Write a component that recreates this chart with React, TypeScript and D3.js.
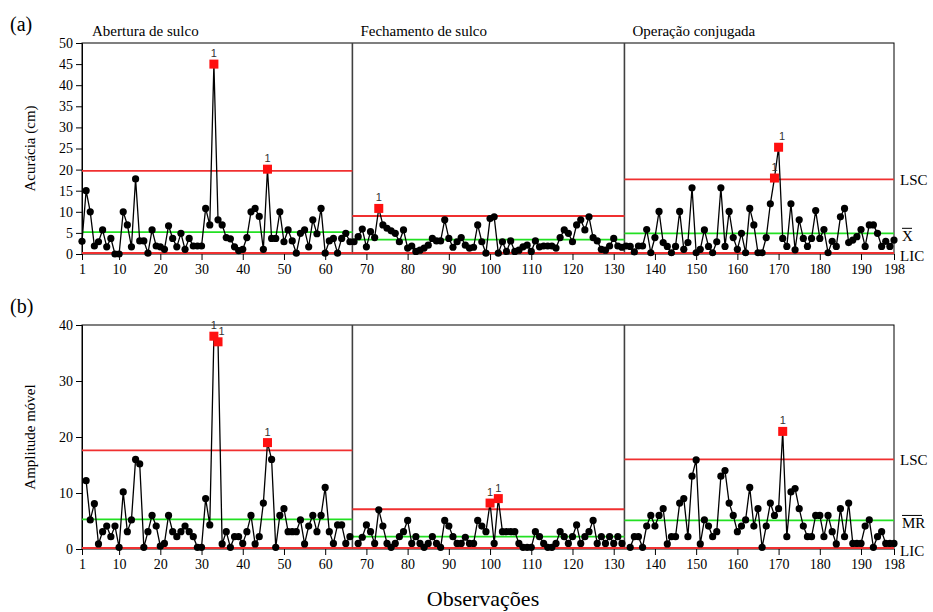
import React, { useEffect, useRef } from "react";
import * as d3 from "d3";

// phases of the operation
const phaseNames = ["Abertura de sulco", "Fechamento de sulco", "Operação conjugada"];
const phaseStart = [1, 67, 133];
const phaseEnd = [66, 132, 198];
const xTicks = [1, 10, 20, 30, 40, 50, 60, 70, 80, 90, 100, 110, 120, 130, 140, 150, 160, 170, 180, 190, 198];

// (a) individual values - accuracy (cm), one array per phase
const accPhase1 = [
  3.0, 15.0, 10.0, 1.9, 2.9, 5.7, 1.7, 3.7, 0.0, 0.0,
  10.0, 6.9, 1.7, 17.8, 3.1, 3.1, 0.2, 5.7, 1.9, 1.7,
  1.1, 6.7, 3.7, 1.7, 4.9, 1.1, 3.7, 1.9, 1.9, 1.9,
  10.8, 6.9, 45.0, 8.1, 6.9, 3.9, 3.6, 1.7, 0.8, 1.1,
  3.9, 10.0, 10.8, 8.9, 1.1, 20.1, 3.7, 3.7, 10.0, 2.9,
  5.7, 3.1, 0.2, 4.9, 5.7, 1.7, 8.1, 4.8, 10.8, 0.2,
  3.1, 3.7, 0.2, 3.7, 4.9, 2.9,
];
const accPhase2 = [
  2.9, 4.1, 5.9, 1.7, 5.3, 3.9, 10.8, 6.9, 6.1, 5.5,
  4.9, 2.9, 5.7, 1.4, 1.9, 0.6, 0.9, 1.4, 2.1, 3.7,
  3.1, 3.1, 8.1, 3.7, 1.6, 2.9, 3.9, 2.1, 1.4, 1.6,
  6.9, 2.9, 0.2, 8.4, 8.8, 0.2, 2.9, 0.6, 3.1, 0.6,
  0.9, 1.7, 2.1, 0.6, 3.1, 1.7, 1.9, 1.9, 1.9, 1.4,
  3.9, 5.7, 4.9, 2.9, 6.9, 8.1, 5.7, 8.8, 3.9, 3.1,
  1.1, 0.9, 1.9, 3.7, 1.9, 1.6,
];
const accPhase3 = [
  1.9, 1.8, 0.5, 1.9, 1.9, 5.8, 0.3, 3.9, 10.1, 2.7,
  1.8, 0.3, 1.8, 10.1, 1.1, 2.7, 15.7, 0.3, 1.1, 5.7,
  1.8, 0.3, 2.9, 15.7, 1.8, 10.1, 3.9, 1.1, 4.9, 0.3,
  10.8, 6.9, 0.3, 0.3, 3.9, 11.9, 18.0, 25.3, 3.7, 1.8,
  11.9, 1.0, 8.1, 3.7, 1.8, 3.7, 10.3, 3.7, 5.8, 0.3,
  3.0, 1.8, 8.8, 10.8, 2.7, 3.3, 4.1, 5.8, 1.8, 6.9,
  6.9, 4.9, 1.8, 3.0, 1.8, 3.3,
];
const accUcl = [19.7, 9.0, 17.7];
const accMean = [5.2, 3.4, 4.9];
const accLcl = [0, 0, 0];

// (b) moving range, starts at the 2nd observation of each phase
const mrPhase1 = [
  12.2, 5.2, 8.1, 0.9, 3.1, 4.1, 2.2, 4.1, 0.3, 10.2,
  3.1, 5.2, 16.0, 15.2, 0.3, 3.1, 6.0, 4.1, 0.5, 1.0,
  6.0, 3.1, 2.2, 3.1, 4.1, 3.1, 2.2, 0.3, 0.3, 9.0,
  4.3, 38.0, 37.0, 0.9, 3.1, 0.3, 2.2, 2.2, 1.0, 3.1,
  6.0, 0.9, 2.2, 8.2, 19.0, 16.0, 0.3, 6.0, 7.2, 3.1,
  3.1, 3.1, 5.2, 0.9, 4.1, 6.0, 3.1, 6.0, 11.0, 3.1,
  1.0, 4.3, 4.3, 1.0, 2.2,
];
const mrPhase2 = [
  1.0, 2.1, 4.3, 3.1, 1.0, 7.0, 4.1, 1.0, 0.3, 1.0,
  2.2, 3.1, 5.1, 1.0, 2.2, 1.0, 0.3, 1.0, 2.2, 1.0,
  0.3, 5.1, 4.1, 2.2, 1.0, 1.0, 2.1, 1.0, 1.0, 5.1,
  4.1, 3.1, 8.2, 1.0, 9.0, 3.1, 3.1, 3.1, 3.1, 1.0,
  0.3, 0.3, 0.3, 3.1, 2.2, 1.0, 0.3, 0.3, 1.0, 3.1,
  2.2, 1.0, 2.2, 4.3, 1.0, 2.2, 3.1, 5.1, 1.0, 2.2,
  1.0, 2.2, 1.0, 2.2, 1.0,
];
const mrPhase3 = [
  0.3, 2.2, 2.2, 0.3, 4.1, 6.0, 4.1, 6.0, 7.2, 0.9,
  2.2, 2.2, 8.2, 9.0, 2.2, 13.0, 15.9, 0.9, 5.2, 4.1,
  2.2, 3.1, 13.0, 14.0, 8.2, 6.0, 3.1, 4.1, 5.2, 11.0,
  4.1, 7.2, 0.3, 4.1, 8.2, 6.0, 7.2, 21.0, 2.2, 10.2,
  10.8, 7.2, 4.1, 2.2, 2.2, 6.0, 6.0, 2.2, 6.0, 3.1,
  0.9, 7.2, 2.2, 8.2, 1.0, 1.0, 1.0, 4.1, 5.2, 0.3,
  2.2, 3.1, 1.0, 1.0, 1.0,
];
const mrUcl = [17.6, 7.1, 16.0];
const mrMean = [5.3, 2.2, 5.1];
const mrLcl = [0, 0, 0];

const W = 933;
const H = 612;
const FONT = "'Liberation Serif', 'Times New Roman', serif";

export default function App() {
  const svgRef = useRef(null);

  useEffect(() => {
    const svg = d3.select(svgRef.current);
    svg.selectAll("*").remove();

    const left = 82;
    const right = 894;
    const x = d3.scaleLinear().domain([1, 198]).range([left, right]);
    // separators between the phases
    const seps = [left, x(66.6), x(132.6), right];

    function drawPanel(opts) {
      const { top, bottom, yMax, yTicks, series, offset, ucl, mean, lcl, yTitle, tag, centerLabel, withNames } = opts;
      const y = d3.scaleLinear().domain([0, yMax]).range([bottom, top]);
      const g = svg.append("g");

      // frame
      g.append("rect")
        .attr("x", left)
        .attr("y", top)
        .attr("width", right - left)
        .attr("height", bottom - top)
        .attr("fill", "white")
        .attr("stroke", "#000")
        .attr("stroke-width", 1);

      // y axis
      const yAxis = g.append("g").attr("transform", `translate(${left},0)`)
        .call(d3.axisLeft(y).tickValues(yTicks).tickSize(6).tickPadding(3));
      yAxis.select(".domain").attr("stroke", "#000");
      yAxis.selectAll("text").style("font-family", FONT).style("font-size", "14px").attr("fill", "#000");

      // x axis
      const xAxis = g.append("g").attr("transform", `translate(0,${bottom})`)
        .call(d3.axisBottom(x).tickValues(xTicks).tickFormat(d3.format("d")).tickSize(6).tickPadding(4));
      xAxis.select(".domain").remove();
      xAxis.selectAll("text").style("font-family", FONT).style("font-size", "14px").attr("fill", "#000");

      // phase separators
      [seps[1], seps[2]].forEach((sx) => {
        g.append("line")
          .attr("x1", sx).attr("x2", sx)
          .attr("y1", top).attr("y2", bottom)
          .attr("stroke", "#404040")
          .attr("stroke-width", 1.6);
      });

      // control limits
      for (let p = 0; p < 3; p++) {
        const x1 = seps[p];
        const x2 = seps[p + 1];
        g.append("line").attr("x1", x1).attr("x2", x2).attr("y1", y(mean[p])).attr("y2", y(mean[p]))
          .attr("stroke", "#22e022").attr("stroke-width", 1.8);
        g.append("line").attr("x1", x1).attr("x2", x2).attr("y1", y(ucl[p])).attr("y2", y(ucl[p]))
          .attr("stroke", "#f03030").attr("stroke-width", 1.8);
        g.append("line").attr("x1", x1).attr("x2", x2).attr("y1", y(lcl[p]) - 1).attr("y2", y(lcl[p]) - 1)
          .attr("stroke", "#f03030").attr("stroke-width", 2);
      }

      // data
      const line = d3.line().x((d) => x(d.n)).y((d) => y(d.v));
      series.forEach((vals, p) => {
        const pts = vals.map((v, i) => ({ n: phaseStart[p] + offset + i, v, out: v > ucl[p] }));
        g.append("path")
          .datum(pts)
          .attr("d", line)
          .attr("fill", "none")
          .attr("stroke", "#000")
          .attr("stroke-width", 1.3);
        g.selectAll(null)
          .data(pts.filter((d) => !d.out))
          .enter()
          .append("circle")
          .attr("cx", (d) => x(d.n))
          .attr("cy", (d) => y(d.v))
          .attr("r", 3.6)
          .attr("fill", "#000");
        const outs = pts.filter((d) => d.out);
        g.selectAll(null)
          .data(outs)
          .enter()
          .append("rect")
          .attr("x", (d) => x(d.n) - 4.5)
          .attr("y", (d) => y(d.v) - 4.5)
          .attr("width", 9)
          .attr("height", 9)
          .attr("fill", "#ff1010");
        // "1" test labels; nudge a label right when the previous point is also flagged
        g.selectAll(null)
          .data(outs)
          .enter()
          .append("text")
          .attr("x", (d, i) => x(d.n) + (i > 0 && outs[i - 1].n === d.n - 1 ? 3.5 : 0))
          .attr("y", (d) => y(d.v) - 7)
          .attr("text-anchor", "middle")
          .style("font-family", "'Liberation Sans', Arial, sans-serif")
          .style("font-size", "11px")
          .attr("fill", "#333")
          .text("1");
      });

      // right side labels
      const rx = 900;
      g.append("text").attr("x", rx).attr("y", y(ucl[2]) + 6)
        .style("font-family", FONT).style("font-size", "15px").text("LSC");
      g.append("text").attr("x", rx).attr("y", y(0) + 7)
        .style("font-family", FONT).style("font-size", "15px").text("LIC");
      g.append("text").attr("x", rx + 2).attr("y", y(mean[2]) + 8)
        .style("font-family", FONT).style("font-size", "15px").text(centerLabel);
      const cw = centerLabel.length * 10;
      g.append("line")
        .attr("x1", rx + 2).attr("x2", rx + 2 + cw)
        .attr("y1", y(mean[2]) - 5).attr("y2", y(mean[2]) - 5)
        .attr("stroke", "#000").attr("stroke-width", 1);

      // y title
      g.append("text")
        .attr("transform", `translate(35,${(top + bottom) / 2}) rotate(-90)`)
        .attr("text-anchor", "middle")
        .style("font-family", FONT)
        .style("font-size", "15px")
        .text(yTitle);

      // panel tag
      g.append("text").attr("x", 10).attr("y", top - 12)
        .style("font-family", FONT).style("font-size", "20px").text(tag);

      if (withNames) {
        phaseNames.forEach((name, p) => {
          g.append("text")
            .attr("x", seps[p] + (p === 0 ? 10 : 8))
            .attr("y", top - 7)
            .style("font-family", FONT)
            .style("font-size", "15px")
            .text(name);
        });
      }
    }

    drawPanel({
      top: 43, bottom: 254, yMax: 50,
      yTicks: [0, 5, 10, 15, 20, 25, 30, 35, 40, 45, 50],
      series: [accPhase1, accPhase2, accPhase3], offset: 0,
      ucl: accUcl, mean: accMean, lcl: accLcl,
      yTitle: "Acurácia (cm)", tag: "(a)", centerLabel: "X", withNames: true,
    });
    drawPanel({
      top: 325, bottom: 549, yMax: 40,
      yTicks: [0, 10, 20, 30, 40],
      series: [mrPhase1, mrPhase2, mrPhase3], offset: 1,
      ucl: mrUcl, mean: mrMean, lcl: mrLcl,
      yTitle: "Amplitude móvel", tag: "(b)", centerLabel: "MR", withNames: false,
    });

    svg.append("text")
      .attr("x", 483)
      .attr("y", 606)
      .attr("text-anchor", "middle")
      .style("font-family", FONT)
      .style("font-size", "22px")
      .text("Observações");
  }, []);

  return (
    <svg
      ref={svgRef}
      width={W}
      height={H}
      style={{ position: "absolute", left: 0, top: 0, background: "white" }}
    ></svg>
  );
}
